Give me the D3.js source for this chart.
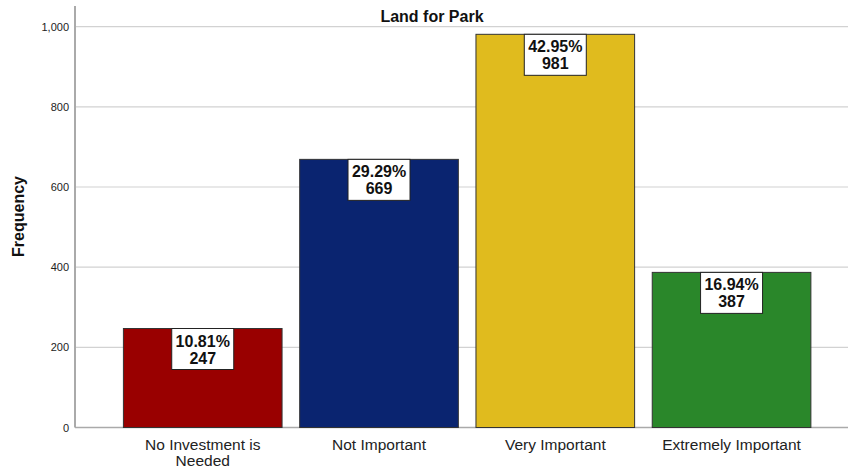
<!DOCTYPE html>
<html>
<head>
<meta charset="utf-8">
<script src="https://cdn.jsdelivr.net/npm/d3@7"></script>
<style>
  body { margin: 0; background: #fff; }
  text { font-family: Arial, "Liberation Sans", sans-serif; }
</style>
</head>
<body>
<div id="chart"></div>
<script>
var categories = ["No Investment is|Needed", "Not Important", "Very Important", "Extremely Important"];
var counts = [247, 669, 981, 387];
var percents = ["10.81%", "29.29%", "42.95%", "16.94%"];
var colors = ["#990000", "#0a2470", "#e0bb1e", "#2a872a"];
var yTicks = [0, 200, 400, 600, 800, 1000];

var svg = d3.select("#chart").append("svg")
  .attr("width", 848)
  .attr("height", 470);

var left = 75, right = 848;
var xScale = d3.scaleBand().domain(categories).range([114.6, 819.7]).paddingInner(0.1).paddingOuter(0.05);
var yScale = d3.scaleLinear().domain([0, 1000]).range([427.5, 26.7]);

// gridlines
svg.selectAll(".grid")
  .data(yTicks.slice(1))
  .enter().append("line")
  .attr("x1", left).attr("x2", right)
  .attr("y1", function (d) { return yScale(d); })
  .attr("y2", function (d) { return yScale(d); })
  .attr("stroke", "#d2d2d2")
  .attr("stroke-width", 1.2);

// y axis
var yAxis = svg.append("g")
  .attr("transform", "translate(" + left + ",0)")
  .call(d3.axisLeft(yScale).tickValues(yTicks).tickSize(0).tickPadding(6).tickFormat(d3.format(",")));
yAxis.select(".domain").remove();
yAxis.selectAll("text").attr("font-size", "11px").attr("fill", "#222").attr("font-family", "Arial, 'Liberation Sans', sans-serif");

svg.append("line")
  .attr("x1", left).attr("x2", left)
  .attr("y1", 6).attr("y2", yScale(0))
  .attr("stroke", "#aaa").attr("stroke-width", 2);
svg.append("line")
  .attr("x1", left).attr("x2", right)
  .attr("y1", yScale(0)).attr("y2", yScale(0))
  .attr("stroke", "#aaa").attr("stroke-width", 1.5);

// bars
svg.selectAll(".bar")
  .data(counts)
  .enter().append("rect")
  .attr("class", "bar")
  .attr("x", function (d, i) { return xScale(categories[i]); })
  .attr("y", function (d) { return yScale(d); })
  .attr("width", xScale.bandwidth())
  .attr("height", function (d) { return yScale(0) - yScale(d); })
  .attr("fill", function (d, i) { return colors[i]; })
  .attr("stroke", "#333")
  .attr("stroke-width", 1);

// value labels
var lab = svg.selectAll(".lab")
  .data(counts)
  .enter().append("g")
  .attr("transform", function (d, i) {
    return "translate(" + (xScale(categories[i]) + xScale.bandwidth() / 2) + "," + yScale(d) + ")";
  });
lab.append("rect")
  .attr("x", -31).attr("y", 0)
  .attr("width", 62).attr("height", 41)
  .attr("fill", "#fff").attr("stroke", "#222").attr("stroke-width", 1);
lab.append("text")
  .attr("y", 18).attr("text-anchor", "middle")
  .attr("font-size", "16px").attr("font-weight", "bold").attr("fill", "#111")
  .text(function (d, i) { return percents[i]; });
lab.append("text")
  .attr("y", 35).attr("text-anchor", "middle")
  .attr("font-size", "16px").attr("font-weight", "bold").attr("fill", "#111")
  .text(function (d) { return d; });

// category labels
var cat = svg.selectAll(".cat")
  .data(categories)
  .enter().append("text")
  .attr("text-anchor", "middle")
  .attr("font-size", "15.5px")
  .attr("fill", "#222")
  .attr("transform", function (d) { return "translate(" + (xScale(d) + xScale.bandwidth() / 2) + ",450)"; });
cat.selectAll("tspan")
  .data(function (d) { return d.split("|"); })
  .enter().append("tspan")
  .attr("x", 0)
  .attr("dy", function (d, i) { return i === 0 ? 0 : 16; })
  .text(function (d) { return d; });

// title
svg.append("text")
  .attr("x", 432).attr("y", 22)
  .attr("text-anchor", "middle")
  .attr("font-size", "16px").attr("font-weight", "bold").attr("fill", "#111")
  .text("Land for Park");

// y axis title
svg.append("text")
  .attr("transform", "translate(24,216.5) rotate(-90)")
  .attr("text-anchor", "middle")
  .attr("font-size", "16px").attr("font-weight", "bold").attr("fill", "#111")
  .text("Frequency");
</script>
</body>
</html>
